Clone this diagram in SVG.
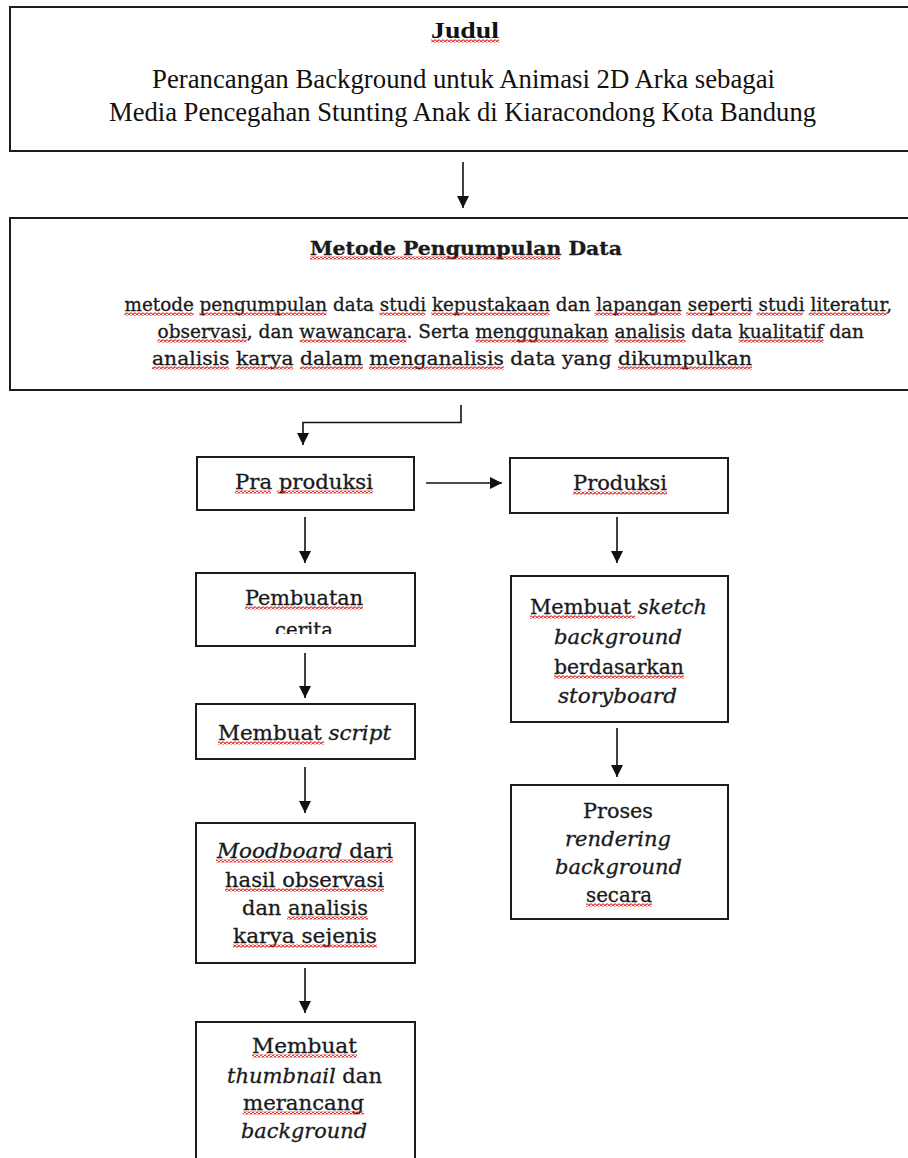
<svg xmlns="http://www.w3.org/2000/svg" width="908" height="1158" viewBox="0 0 908 1158">
<style>
.box{fill:#fff;stroke:#1c1c1c;stroke-width:2}
.ln{fill:none;stroke:#111;stroke-width:1.6}
.tt{font-family:"Liberation Serif","Times New Roman",serif;fill:#111}
.sl{font-family:"DejaVu Serif","Liberation Serif",serif;fill:#1a1a1a;stroke:#1a1a1a;stroke-width:0.3}
.it{font-style:italic}
.sq{fill:url(#wave)}
</style>
<defs>
<marker id="ah" markerUnits="userSpaceOnUse" markerWidth="12" markerHeight="12" refX="12" refY="6" orient="auto">
<path d="M0,0 L12,6 L0,12 z" fill="#111"/>
</marker>
<pattern id="wave" width="4" height="3" patternUnits="userSpaceOnUse">
<path d="M0,1.5 Q1,3.4 2,1.5 Q3,-0.4 4,1.5" fill="none" stroke="#e01010" stroke-width="1.2"/>
</pattern>
<clipPath id="clipCerita"><rect x="196" y="573" width="219" height="61"/></clipPath>
</defs>

<g id="connectors">
<line class="ln" x1="463" y1="162" x2="463" y2="208" marker-end="url(#ah)"/>
<polyline class="ln" points="461,405 461,422.5 303,422.5 303,445" marker-end="url(#ah)"/>
<line class="ln" x1="426" y1="483" x2="502" y2="483" marker-end="url(#ah)"/>
<line class="ln" x1="305" y1="517" x2="305" y2="563" marker-end="url(#ah)"/>
<line class="ln" x1="305" y1="653" x2="305" y2="698" marker-end="url(#ah)"/>
<line class="ln" x1="305" y1="767" x2="305" y2="813" marker-end="url(#ah)"/>
<line class="ln" x1="305" y1="968" x2="305" y2="1013" marker-end="url(#ah)"/>
<line class="ln" x1="617" y1="517" x2="617" y2="563" marker-end="url(#ah)"/>
<line class="ln" x1="617" y1="728" x2="617" y2="777" marker-end="url(#ah)"/>
</g>

<g id="judul">
<rect class="box" x="10" y="7" width="920" height="144"/>
<text class="tt" x="431" y="38" font-size="24" font-weight="bold" textLength="68" lengthAdjust="spacingAndGlyphs">Judul</text>
<rect class="sq" x="431" y="39.5" width="68" height="3"/>
<text class="tt" x="152" y="88" font-size="26.5" textLength="623" lengthAdjust="spacingAndGlyphs">Perancangan Background untuk Animasi 2D Arka sebagai</text>
<text class="tt" x="109" y="121" font-size="26.5" textLength="707" lengthAdjust="spacingAndGlyphs">Media Pencegahan Stunting Anak di Kiaracondong Kota Bandung</text>
</g>

<g id="metode">
<rect class="box" x="10" y="218" width="920" height="172"/>
<text class="sl" x="310" y="255" font-size="19" font-weight="bold" textLength="312" lengthAdjust="spacingAndGlyphs">Metode Pengumpulan Data</text>
<rect class="sq" x="310" y="256.5" width="250" height="3"/>
<text class="sl" x="124.5" y="311" font-size="18" textLength="767.5" lengthAdjust="spacingAndGlyphs">metode pengumpulan data studi kepustakaan dan lapangan seperti studi literatur,</text>
<text class="sl" x="157.5" y="338" font-size="18" textLength="706.5" lengthAdjust="spacingAndGlyphs">observasi, dan wawancara. Serta menggunakan analisis data kualitatif dan</text>
<text class="sl" x="152" y="365" font-size="18" textLength="600" lengthAdjust="spacingAndGlyphs">analisis karya dalam menganalisis data yang dikumpulkan</text>
<rect class="sq" x="124.5" y="312.5" width="69" height="3"/>
<rect class="sq" x="199.4" y="312.5" width="127" height="3"/>
<rect class="sq" x="379.2" y="312.5" width="46" height="3"/>
<rect class="sq" x="431.1" y="312.5" width="118" height="3"/>
<rect class="sq" x="594.8" y="312.5" width="86" height="3"/>
<rect class="sq" x="686.2" y="312.5" width="65" height="3"/>
<rect class="sq" x="756.8" y="312.5" width="46" height="3"/>
<rect class="sq" x="808.7" y="312.5" width="78" height="3"/>
<rect class="sq" x="157.5" y="339.5" width="89" height="3"/>
<rect class="sq" x="299.5" y="339.5" width="107" height="3"/>
<rect class="sq" x="475.4" y="339.5" width="133" height="3"/>
<rect class="sq" x="614.6" y="339.5" width="71" height="3"/>
<rect class="sq" x="738.7" y="339.5" width="85" height="3"/>
<rect class="sq" x="152" y="366.5" width="77" height="3"/>
<rect class="sq" x="236" y="366.5" width="57" height="3"/>
<rect class="sq" x="300" y="366.5" width="63" height="3"/>
<rect class="sq" x="369" y="366.5" width="135" height="3"/>
<rect class="sq" x="618" y="366.5" width="134" height="3"/>
</g>

<g id="praproduksi">
<rect class="box" x="197" y="457" width="217" height="53"/>
<text class="sl" x="235" y="489" font-size="20" textLength="138" lengthAdjust="spacingAndGlyphs">Pra produksi</text>
<rect class="sq" x="235" y="490.5" width="36" height="3"/>
<rect class="sq" x="277" y="490.5" width="96" height="3"/>
</g>

<g id="produksi">
<rect class="box" x="510" y="458" width="218" height="55"/>
<text class="sl" x="573" y="490" font-size="20" textLength="94" lengthAdjust="spacingAndGlyphs">Produksi</text>
<rect class="sq" x="573" y="491.5" width="94" height="3"/>
</g>

<g id="pembuatan-cerita">
<rect class="box" x="196" y="573" width="219" height="73"/>
<text class="sl" x="245" y="605" font-size="20" textLength="118" lengthAdjust="spacingAndGlyphs">Pembuatan</text>
<rect class="sq" x="245" y="606.5" width="118" height="3"/>
<text class="sl" x="275" y="637" font-size="20" textLength="58" lengthAdjust="spacingAndGlyphs" clip-path="url(#clipCerita)">cerita</text>
</g>

<g id="membuat-script">
<rect class="box" x="196" y="704" width="219" height="55"/>
<text class="sl" x="218" y="740" font-size="20" textLength="173" lengthAdjust="spacingAndGlyphs">Membuat <tspan class="it">script</tspan></text>
<rect class="sq" x="218" y="741.5" width="106" height="3"/>
</g>

<g id="moodboard">
<rect class="box" x="196" y="823" width="219" height="140"/>
<text class="sl" x="217" y="858" font-size="20" textLength="176" lengthAdjust="spacingAndGlyphs"><tspan class="it">Moodboard</tspan> dari</text>
<text class="sl" x="225" y="887" font-size="20" textLength="159" lengthAdjust="spacingAndGlyphs">hasil observasi</text>
<text class="sl" x="242" y="915" font-size="20" textLength="126" lengthAdjust="spacingAndGlyphs">dan analisis</text>
<text class="sl" x="233" y="943" font-size="20" textLength="144" lengthAdjust="spacingAndGlyphs">karya sejenis</text>
<rect class="sq" x="216" y="859.5" width="177" height="3"/>
<rect class="sq" x="225" y="888.5" width="159" height="3"/>
<rect class="sq" x="287" y="916.5" width="81" height="3"/>
<rect class="sq" x="233" y="944.5" width="144" height="3"/>
</g>

<g id="membuat-thumbnail">
<rect class="box" x="196" y="1022" width="219" height="150"/>
<text class="sl" x="252" y="1053" font-size="20" textLength="105" lengthAdjust="spacingAndGlyphs">Membuat</text>
<text class="sl" x="227" y="1083" font-size="20" textLength="155" lengthAdjust="spacingAndGlyphs"><tspan class="it">thumbnail</tspan> dan</text>
<text class="sl" x="243" y="1110" font-size="20" textLength="121" lengthAdjust="spacingAndGlyphs">merancang</text>
<text class="sl it" x="241" y="1138" font-size="20" textLength="126" lengthAdjust="spacingAndGlyphs">background</text>
<rect class="sq" x="252" y="1054.5" width="105" height="3"/>
<rect class="sq" x="243" y="1111.5" width="121" height="3"/>
</g>

<g id="membuat-sketch">
<rect class="box" x="511" y="576" width="217" height="146"/>
<text class="sl" x="530" y="614" font-size="20" textLength="177" lengthAdjust="spacingAndGlyphs">Membuat <tspan class="it">sketch</tspan></text>
<text class="sl it" x="554" y="644" font-size="20" textLength="128" lengthAdjust="spacingAndGlyphs">background</text>
<text class="sl" x="554" y="674" font-size="20" textLength="130" lengthAdjust="spacingAndGlyphs">berdasarkan</text>
<text class="sl it" x="558" y="703" font-size="20" textLength="119" lengthAdjust="spacingAndGlyphs">storyboard</text>
<rect class="sq" x="530" y="615.5" width="105" height="3"/>
<rect class="sq" x="554" y="675.5" width="130" height="3"/>
</g>

<g id="proses-rendering">
<rect class="box" x="511" y="785" width="217" height="134"/>
<text class="sl" x="583" y="818" font-size="20" textLength="70" lengthAdjust="spacingAndGlyphs">Proses</text>
<text class="sl it" x="565" y="846" font-size="20" textLength="106" lengthAdjust="spacingAndGlyphs">rendering</text>
<text class="sl it" x="555" y="874" font-size="20" textLength="127" lengthAdjust="spacingAndGlyphs">background</text>
<text class="sl" x="586" y="902" font-size="20" textLength="66" lengthAdjust="spacingAndGlyphs">secara</text>
<rect class="sq" x="586" y="903.5" width="66" height="3"/>
</g>
</svg>
